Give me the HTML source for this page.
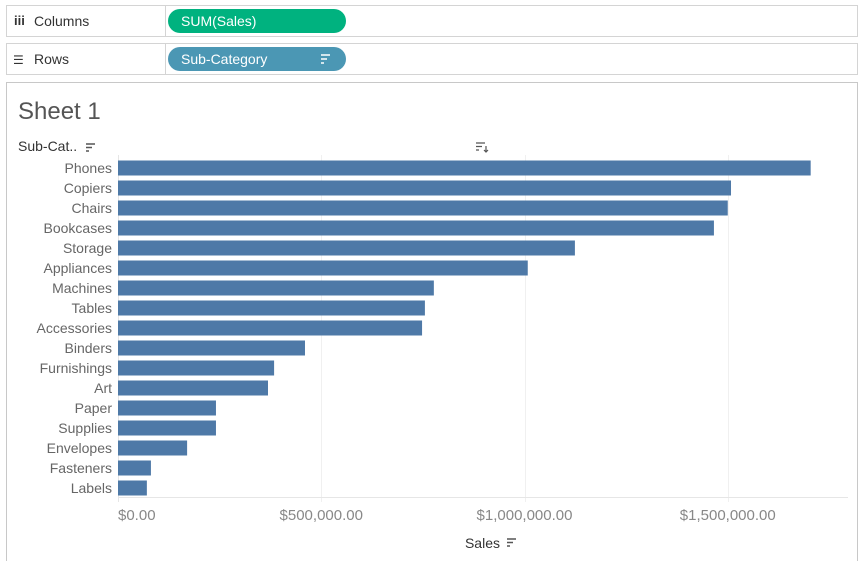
<!DOCTYPE html>
<html><head><meta charset="utf-8"><style>
body{margin:0;width:863px;height:561px;overflow:hidden;background:#fff;font-family:"Liberation Sans",sans-serif}
svg{display:block}
</style></head><body>
<svg id="c" width="863" height="561" xmlns="http://www.w3.org/2000/svg">
<g>
<rect x="6.5" y="5.5" width="851" height="31" fill="#fff" stroke="#d4d4d4"/>
<line x1="165.5" y1="5.5" x2="165.5" y2="36.5" stroke="#d4d4d4"/>
<text x="14" y="25" font-size="13" fill="#333" font-weight="bold">iii</text>
<text x="34" y="26" font-size="14" fill="#333">Columns</text>
<rect x="168" y="9" width="178" height="24" rx="12" fill="#00b27f"/>
<text x="181" y="26" font-size="14" fill="#fff">SUM(Sales)</text>
</g>
<g>
<rect x="6.5" y="43.5" width="851" height="31" fill="#fff" stroke="#d4d4d4"/>
<line x1="165.5" y1="43.5" x2="165.5" y2="74.5" stroke="#d4d4d4"/>
<text x="13" y="64" font-size="12" fill="#333">☰</text>
<text x="34" y="64" font-size="14" fill="#333">Rows</text>
<rect x="168" y="47" width="178" height="24" rx="12" fill="#4b97b4"/>
<text x="181" y="64" font-size="14" fill="#fff">Sub-Category</text>
<path d="M321 55h9M321 59h6M321 63h3" stroke="#fff" stroke-width="1.6"/>
</g>
<rect x="6.5" y="82.5" width="851" height="490" fill="#fff" stroke="#c8c8c8"/>
<text x="18" y="119" font-size="24" fill="#555">Sheet 1</text>
<text x="18" y="151" font-size="14" fill="#333">Sub-Cat..</text>
<path d="M86 144h9M86 147.5h6M86 151h3" stroke="#555" stroke-width="1.4"/>
<path d="M476 143h9M476 146.5h6M476 150h3M486 146v6M484 150l2 2 2-2" stroke="#555" stroke-width="1.2" fill="none"/>
<g id="grid"></g><g id="bars"></g><g id="labels"></g><g id="axis"></g>
<text x="500" y="548" font-size="14" fill="#333" text-anchor="end">Sales</text>
<path d="M507 539h9M507 542.5h6M507 546h3" stroke="#555" stroke-width="1.4"/>
</svg>
<script>
const categories=["Phones","Copiers","Chairs","Bookcases","Storage","Appliances","Machines","Tables","Accessories","Binders","Furnishings","Art","Paper","Supplies","Envelopes","Fasteners","Labels"];
const sales=[1704000,1508000,1500000,1466000,1124000,1008000,777000,755000,748000,460000,384000,369000,241000,241000,170000,81000,71000];
const ticks=[0,500000,1000000,1500000];
const tickLabels=["$0.00","$500,000.00","$1,000,000.00","$1,500,000.00"];
const NS="http://www.w3.org/2000/svg";
const x0=118,pxPer=406.5/1000000,y0=158,step=20,bh=15;
const xs=v=>x0+v*pxPer, ys=i=>y0+i*step;
function mk(t,a,p){const e=document.createElementNS(NS,t);for(const k in a)e.setAttribute(k,a[k]);p.appendChild(e);return e;}
const grid=document.getElementById('grid'),bars=document.getElementById('bars'),labels=document.getElementById('labels'),axis=document.getElementById('axis');
ticks.forEach((t,i)=>{
 const x=Math.round(xs(t))+0.5;
 const g=mk('line',{x1:x,x2:x,y1:155,y2:502,stroke:i==0?'#e6e6e6':'#f0f0f0'},grid);
 
 
 const tx=mk('text',{x:xs(t),y:520,'font-size':15,fill:'#888','text-anchor':i==0?'start':'middle'},axis);
 tx.textContent=tickLabels[i];
 
 
});
mk('line',{x1:118,x2:848,y1:497.5,y2:497.5,stroke:'#e6e6e6'},grid);
categories.forEach((c,i)=>{
 const r=mk('rect',{x:x0,y:ys(i)+2.5,width:xs(sales[i])-x0,height:bh,fill:'#4e79a7'},bars);
 
 
 const t=mk('text',{x:112,y:ys(i)+15,'font-size':14,fill:'#666','text-anchor':'end'},labels);
 t.textContent=c;
 
 
});
</script>
</body></html>
